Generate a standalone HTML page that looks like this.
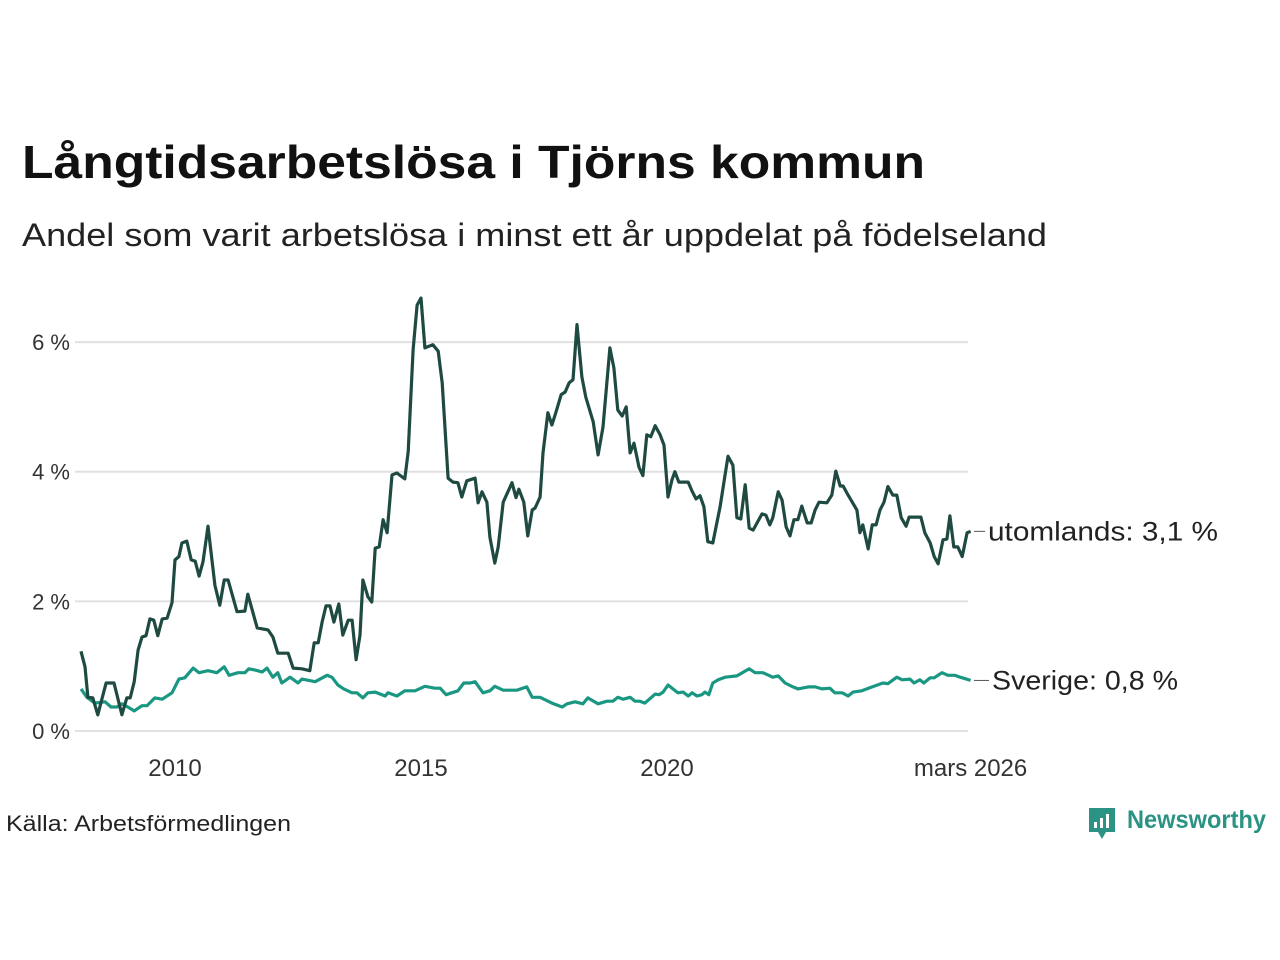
<!DOCTYPE html>
<html><head><meta charset="utf-8">
<style>html,body{margin:0;padding:0;background:#fff;}svg{display:block;font-family:"Liberation Sans",sans-serif;}</style>
</head><body>
<svg id="chart" width="1280" height="960" viewBox="0 0 1280 960" xmlns="http://www.w3.org/2000/svg">
<text x="22" y="178" font-size="46" font-weight="bold" fill="#111" textLength="903" lengthAdjust="spacingAndGlyphs">Långtidsarbetslösa i Tjörns kommun</text>
<text x="22" y="246" font-size="32" fill="#222" textLength="1025" lengthAdjust="spacingAndGlyphs">Andel som varit arbetslösa i minst ett år uppdelat på födelseland</text>
<g id="grid"></g>
<g id="lines"></g>
<text x="6" y="831" font-size="22" fill="#222" textLength="285" lengthAdjust="spacingAndGlyphs">Källa: Arbetsförmedlingen</text>
<g>
<path d="M1089 808 h26 v24 h-9 l-4 7 l-4 -7 h-9 z" fill="#2a9383"/>
<rect x="1094" y="822" width="3" height="6" fill="#fff"/><rect x="1100" y="818" width="3" height="10" fill="#fff"/><rect x="1106" y="814" width="3" height="14" fill="#fff"/>
<text x="1127" y="828" font-size="25" font-weight="bold" fill="#2a9383" textLength="139" lengthAdjust="spacingAndGlyphs">Newsworthy</text>
</g>
</svg>
<script>
const utDates=[2008.09,2008.17,2008.23,2008.33,2008.43,2008.60,2008.76,2008.92,2009.02,2009.09,2009.17,2009.25,2009.33,2009.41,2009.49,2009.57,2009.65,2009.74,2009.84,2009.94,2010.00,2010.08,2010.14,2010.24,2010.33,2010.41,2010.49,2010.57,2010.67,2010.81,2010.91,2011.00,2011.08,2011.26,2011.42,2011.48,2011.67,2011.89,2011.99,2012.09,2012.30,2012.40,2012.58,2012.74,2012.83,2012.91,2012.99,2013.07,2013.15,2013.23,2013.33,2013.41,2013.52,2013.60,2013.68,2013.76,2013.82,2013.92,2014.00,2014.07,2014.15,2014.23,2014.31,2014.41,2014.51,2014.67,2014.74,2014.84,2014.92,2015.00,2015.08,2015.24,2015.35,2015.43,2015.55,2015.65,2015.75,2015.83,2015.93,2016.10,2016.16,2016.24,2016.34,2016.40,2016.50,2016.57,2016.67,2016.85,2016.93,2016.99,2017.09,2017.17,2017.26,2017.32,2017.42,2017.48,2017.58,2017.66,2017.74,2017.85,2017.93,2018.01,2018.09,2018.17,2018.27,2018.35,2018.50,2018.60,2018.70,2018.84,2018.92,2019.00,2019.09,2019.17,2019.25,2019.33,2019.43,2019.51,2019.59,2019.67,2019.76,2019.86,2019.94,2020.02,2020.10,2020.16,2020.24,2020.43,2020.51,2020.59,2020.67,2020.75,2020.83,2020.93,2021.08,2021.24,2021.34,2021.42,2021.50,2021.59,2021.67,2021.75,2021.93,2022.01,2022.09,2022.15,2022.26,2022.34,2022.42,2022.50,2022.58,2022.66,2022.74,2022.85,2022.93,2023.01,2023.09,2023.25,2023.35,2023.43,2023.52,2023.58,2023.68,2023.86,2023.92,2023.98,2024.09,2024.17,2024.25,2024.33,2024.41,2024.49,2024.59,2024.67,2024.76,2024.86,2024.92,2025.16,2025.24,2025.35,2025.43,2025.51,2025.61,2025.69,2025.75,2025.83,2025.91,2026.00,2026.10,2026.17];
const utValues=[1.23,0.99,0.52,0.51,0.25,0.74,0.74,0.25,0.51,0.51,0.76,1.25,1.45,1.47,1.73,1.71,1.47,1.73,1.74,1.98,2.64,2.69,2.90,2.93,2.64,2.62,2.39,2.61,3.16,2.25,1.94,2.33,2.33,1.84,1.85,2.11,1.59,1.56,1.45,1.20,1.20,0.97,0.96,0.93,1.36,1.36,1.68,1.93,1.93,1.68,1.96,1.48,1.71,1.71,1.10,1.48,2.33,2.07,1.99,2.82,2.84,3.26,3.06,3.95,3.98,3.89,4.31,5.88,6.57,6.68,5.91,5.96,5.86,5.37,3.90,3.84,3.83,3.61,3.86,3.90,3.52,3.69,3.53,2.99,2.59,2.84,3.53,3.83,3.60,3.73,3.53,3.01,3.41,3.44,3.61,4.29,4.91,4.72,4.91,5.19,5.23,5.37,5.42,6.27,5.46,5.15,4.77,4.26,4.69,5.91,5.60,4.95,4.86,5.00,4.29,4.44,4.07,3.94,4.57,4.54,4.71,4.57,4.41,3.61,3.87,4.00,3.84,3.84,3.70,3.58,3.63,3.46,2.92,2.90,3.46,4.24,4.10,3.29,3.27,3.80,3.13,3.10,3.35,3.33,3.18,3.29,3.69,3.56,3.15,3.01,3.26,3.26,3.47,3.21,3.21,3.41,3.53,3.52,3.64,4.01,3.78,3.78,3.64,3.41,3.06,3.18,2.81,3.18,3.18,3.41,3.53,3.77,3.64,3.64,3.29,3.16,3.30,3.30,3.06,2.90,2.69,2.58,2.95,2.96,3.32,2.84,2.84,2.69,3.06,3.08];
const seDates=[2008.09,2008.21,2008.37,2008.58,2008.70,2008.82,2008.92,2009.04,2009.17,2009.33,2009.43,2009.59,2009.74,2009.94,2010.08,2010.20,2010.37,2010.49,2010.67,2010.85,2011.00,2011.10,2011.28,2011.42,2011.50,2011.63,2011.77,2011.87,2011.99,2012.09,2012.17,2012.34,2012.50,2012.58,2012.85,2013.09,2013.19,2013.31,2013.43,2013.60,2013.70,2013.82,2013.92,2014.07,2014.27,2014.33,2014.51,2014.67,2014.88,2015.08,2015.28,2015.39,2015.51,2015.75,2015.87,2016.00,2016.10,2016.26,2016.40,2016.50,2016.67,2016.95,2017.15,2017.26,2017.42,2017.66,2017.87,2017.97,2018.13,2018.29,2018.39,2018.60,2018.78,2018.90,2019.00,2019.11,2019.25,2019.35,2019.45,2019.55,2019.76,2019.84,2019.92,2020.02,2020.22,2020.33,2020.43,2020.51,2020.61,2020.71,2020.77,2020.85,2020.93,2021.04,2021.18,2021.42,2021.67,2021.79,2021.95,2022.15,2022.26,2022.40,2022.56,2022.66,2022.87,2023.01,2023.15,2023.31,2023.41,2023.56,2023.68,2023.78,2023.96,2024.17,2024.39,2024.49,2024.67,2024.78,2024.94,2025.02,2025.14,2025.22,2025.35,2025.43,2025.59,2025.71,2025.85,2025.96,2026.17];
const seValues=[0.65,0.52,0.43,0.45,0.37,0.37,0.42,0.37,0.31,0.39,0.39,0.51,0.49,0.59,0.80,0.82,0.97,0.90,0.93,0.90,0.99,0.86,0.90,0.90,0.96,0.94,0.91,0.97,0.83,0.90,0.74,0.83,0.74,0.80,0.76,0.86,0.83,0.71,0.65,0.59,0.59,0.51,0.59,0.60,0.54,0.59,0.54,0.62,0.62,0.69,0.66,0.66,0.56,0.62,0.74,0.74,0.76,0.59,0.62,0.69,0.63,0.63,0.68,0.52,0.52,0.43,0.37,0.42,0.45,0.42,0.51,0.42,0.46,0.46,0.52,0.49,0.52,0.46,0.46,0.43,0.57,0.56,0.60,0.71,0.59,0.60,0.54,0.59,0.54,0.56,0.60,0.56,0.74,0.79,0.83,0.85,0.96,0.90,0.90,0.83,0.85,0.74,0.68,0.65,0.68,0.68,0.65,0.66,0.59,0.59,0.54,0.60,0.62,0.68,0.74,0.73,0.83,0.79,0.80,0.74,0.79,0.74,0.82,0.82,0.90,0.86,0.86,0.83,0.78];
const yTicks=[0,2,4,6];
const yTickLabels=["0 %","2 %","4 %","6 %"];
const xTicks=[2010,2015,2020,2026.17];
const xTickLabels=["2010","2015","2020","mars 2026"];
const seriesLabels=["utomlands: 3,1 %","Sverige: 0,8 %"];

const NS="http://www.w3.org/2000/svg";
const X0=75,X1=968;
const xs=v=>175+(v-2010)*49.2;
const ys=v=>731-v*64.82;
function mk(tag,attrs,parent){const e=document.createElementNS(NS,tag);for(const k in attrs)e.setAttribute(k,attrs[k]);parent.appendChild(e);return e;}
const grid=document.getElementById('grid');
yTicks.forEach((t,i)=>{
  const l=mk('line',{x1:X0,x2:X1,y1:ys(t),y2:ys(t),stroke:'#e0e0e3','stroke-width':2},grid);
  
  
  const tx=mk('text',{x:70,y:ys(t)+8,'text-anchor':'end','font-size':22,fill:'#333'},grid);
  
  
  tx.textContent=yTickLabels[i];
});
xTicks.forEach((t,i)=>{
  const tx=mk('text',{x:xs(t),y:776,'text-anchor':'middle','font-size':24,fill:'#333'},grid);
  
  
  tx.textContent=xTickLabels[i];
});
const lines=document.getElementById('lines');
function draw(dates,vals,color,name,label,lx,w){
  const d=dates.map((t,i)=>(i?'L':'M')+xs(t).toFixed(1)+' '+ys(vals[i]).toFixed(1)).join(' ');
  const p=mk('path',{d:d,fill:'none',stroke:color,'stroke-width':3.2,'stroke-linejoin':'round'},lines);
  
  
  const ly=ys(vals[vals.length-1]);
  const c=mk('line',{x1:974,x2:lx-3,y1:ly,y2:ly,stroke:'#555','stroke-width':1},lines);
  
  
  const tx=mk('text',{x:lx,y:ly+9,'font-size':27,fill:'#222',textLength:w,lengthAdjust:'spacingAndGlyphs'},lines);
  
  
  tx.textContent=label;
}
draw(seDates,seValues,'#1a9783','sverige-line',seriesLabels[1],992,186);
draw(utDates,utValues,'#1f4a42','utomlands-line',seriesLabels[0],988,230);
</script>
</body></html>
